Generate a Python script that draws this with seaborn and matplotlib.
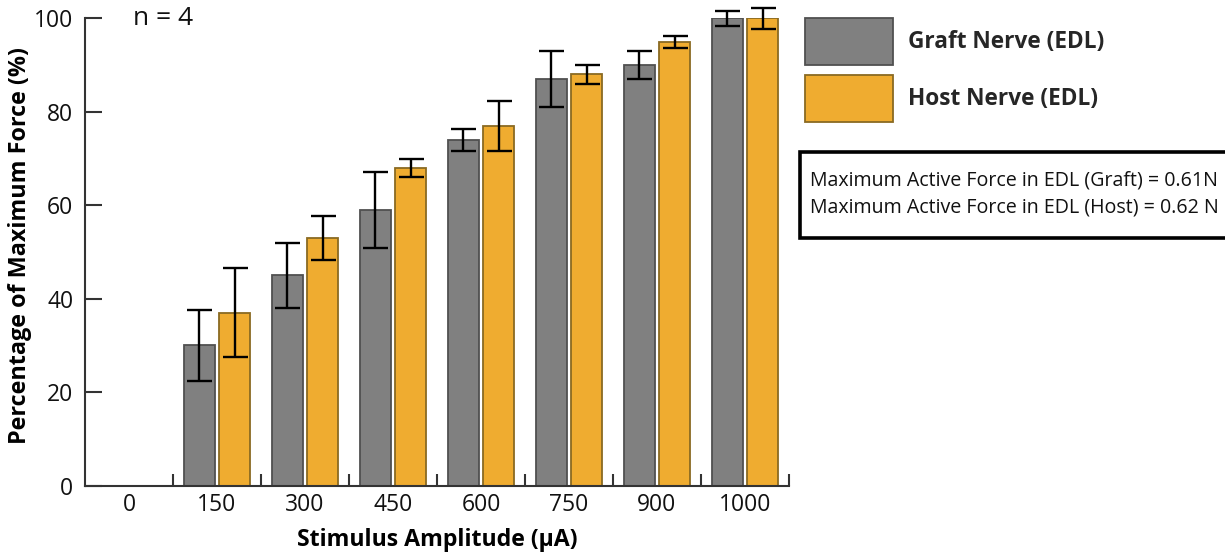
import matplotlib
matplotlib.use("Agg")
import matplotlib.pyplot as plt
import numpy as np
import pandas as pd
import seaborn as sns
from matplotlib.patches import Patch, Rectangle

# Stimulus amplitudes (µA) and normalised force (% of maximum), mean ± error
amplitudes = ["0", "150", "300", "450", "600", "750", "900", "1000"]
graft_mean = [0, 30, 45, 59, 74, 87, 90, 100]
graft_err = [0, 7.5, 7.0, 8.2, 2.3, 6.0, 3.0, 1.6]
host_mean = [0, 37, 53, 68, 77, 88, 95, 100]
host_err = [0, 9.5, 4.7, 2.0, 5.4, 2.0, 1.3, 2.2]
groups = ["Graft Nerve (EDL)", "Host Nerve (EDL)"]
fill_colors = ["#808080", "#EFAC30"]
edge_colors = ["#505050", "#8a6a22"]
force_notes = [
    "Maximum Active Force in EDL (Graft) = 0.61N",
    "Maximum Active Force in EDL (Host) = 0.62 N",
]

df = pd.DataFrame({
    "amplitude": amplitudes * 2,
    "force": graft_mean + host_mean,
    "group": [groups[0]] * len(amplitudes) + [groups[1]] * len(amplitudes),
})

sns.set_theme(style="white")
plt.rcParams["font.family"] = ["Open Sans", "DejaVu Sans"]

fig = plt.figure(figsize=(12.25, 5.52), dpi=100)
ax = fig.add_axes([85 / 1225, 1 - 485.7 / 552, (789 - 85) / 1225, (485.7 - 18.3) / 552])

sns.barplot(data=df, x="amplitude", y="force", hue="group", order=amplitudes,
            hue_order=groups, palette=fill_colors, saturation=1, errorbar=None,
            width=0.8, gap=0.1, linewidth=1.3, legend=False, ax=ax)

for container, ec, errs in zip(ax.containers, edge_colors, [graft_err, host_err]):
    xs, ys, es = [], [], []
    for bar, e in zip(container, errs):
        bar.set_edgecolor(ec)
        if e > 0:
            xs.append(bar.get_x() + bar.get_width() / 2)
            ys.append(bar.get_height())
            es.append(e)
    eb = ax.errorbar(xs, ys, yerr=es, fmt="none", ecolor="black",
                     elinewidth=1.7, capsize=9, capthick=1.7, zorder=5)
    for art in list(eb.lines[1]) + list(eb.lines[2]):
        art.set_clip_on(False)

ax.set_xlim(-0.5, len(amplitudes) - 0.5)
ax.set_ylim(0, 100)
ax.set_yticks(np.arange(0, 101, 20))
ax.set_xticks(np.arange(0.5, len(amplitudes), 1), minor=True)

for side in ["top", "right"]:
    ax.spines[side].set_visible(False)
for side in ["left", "bottom"]:
    ax.spines[side].set_color("#333333")
    ax.spines[side].set_linewidth(1.5)

ax.tick_params(axis="y", direction="in", length=12, width=1.5, color="#333333",
               pad=8.5, labelsize=16.5, labelcolor="#111111", left=True)
ax.tick_params(axis="x", which="major", length=0, pad=5, labelsize=16.5,
               labelcolor="#111111")
ax.tick_params(axis="x", which="minor", direction="in", length=8.6, width=1.5,
               color="#333333", bottom=True)

ax.set_xlabel("Stimulus Amplitude (µA)", fontsize=16.7, fontweight="bold",
              labelpad=8, color="black")
ax.set_ylabel("Percentage of Maximum Force (%)", fontsize=16.8, fontweight="bold",
              color="black")
ax.yaxis.set_label_coords(-0.0753, 0.513)

ax.text(0.05, 100, "n = 4", fontsize=19, ha="left", va="center", color="#111111")

handles = [Patch(facecolor=fc, edgecolor=ec, linewidth=1.3)
           for fc, ec in zip(fill_colors, edge_colors)]
fig.legend(handles, groups, loc="upper left", bbox_to_anchor=(805 / 1225, 1 - 18 / 552),
           frameon=False, borderpad=0, borderaxespad=0, handlelength=3.9,
           handleheight=2.85, labelspacing=0.42, handletextpad=0.66,
           prop={"size": 16.3, "weight": "bold"})

fig.patches.append(Rectangle((800 / 1225, 1 - 238 / 552), 0.4, 86 / 552,
                             transform=fig.transFigure, facecolor="white",
                             edgecolor="black", linewidth=2.6, zorder=0))
fig.text(810 / 1225, 1 - 194 / 552, "\n".join(force_notes), fontsize=14.1,
         ha="left", va="center", linespacing=1.5, color="#111111")

fig.savefig("out.png", dpi=100)
